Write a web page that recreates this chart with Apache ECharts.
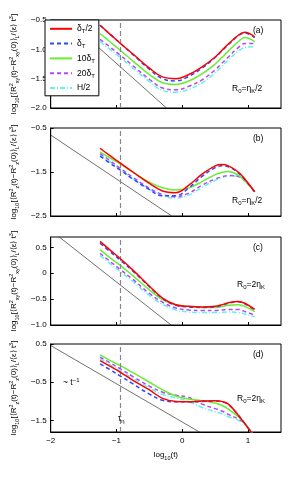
<!DOCTYPE html>
<html><head><meta charset="utf-8">
<script src="https://cdn.jsdelivr.net/npm/echarts@6/dist/echarts.min.js"></script>
<style>html,body{margin:0;padding:0;background:#fff}#c{width:295px;height:493px}</style>
</head><body><div id="c"></div>
<script>
// shared log10(t) sample points
var logT = [-1.25,-1.1,-0.94,-0.75,-0.5,-0.3,-0.1,0.1,0.3,0.5,0.6,0.7,0.85,0.95,1.1];
var seriesNames = ['δT/2','δT','10δT','20δT','H/2'];
// panel (a): R_xy, R0 = eta_K/2
var a_red   = [-0.59,-0.74,-0.90,-1.08,-1.32,-1.47,-1.50,-1.43,-1.30,-1.13,-1.02,-0.91,-0.76,-0.71,-0.79];
var a_blue  = [-0.59,-0.74,-0.90,-1.09,-1.34,-1.50,-1.54,-1.46,-1.32,-1.14,-1.03,-0.92,-0.77,-0.72,-0.80];
var a_green = [-0.73,-0.87,-1.02,-1.20,-1.43,-1.57,-1.60,-1.54,-1.42,-1.25,-1.14,-1.03,-0.87,-0.80,-0.87];
var a_mag   = [-0.83,-0.96,-1.10,-1.28,-1.51,-1.66,-1.69,-1.63,-1.52,-1.35,-1.24,-1.13,-0.97,-0.90,-0.90];
var a_cyan  = [-0.87,-1.00,-1.14,-1.32,-1.55,-1.70,-1.73,-1.68,-1.57,-1.40,-1.29,-1.18,-1.03,-0.97,-0.955];
// panel (b): R_z, R0 = eta_K/2
var b_red   = [-0.96,-1.13,-1.30,-1.50,-1.76,-1.93,-1.97,-1.80,-1.55,-1.36,-1.33,-1.36,-1.50,-1.66,-1.95];
var b_blue  = [-1.14,-1.30,-1.46,-1.66,-1.90,-2.04,-2.04,-1.86,-1.60,-1.40,-1.36,-1.38,-1.52,-1.67,-1.95];
var b_green = [-1.04,-1.18,-1.32,-1.51,-1.73,-1.86,-1.91,-1.86,-1.72,-1.56,-1.51,-1.49,-1.57,-1.70,-1.95];
var b_mag   = [-1.08,-1.24,-1.42,-1.62,-1.87,-2.01,-2.06,-1.98,-1.80,-1.66,-1.61,-1.58,-1.60,-1.70,-1.95];
var b_cyan  = [-1.11,-1.27,-1.44,-1.65,-1.89,-2.04,-2.09,-2.02,-1.85,-1.69,-1.63,-1.59,-1.59,-1.68,-1.95];
// panel (c): R_xy, R0 = 2 eta_K
var c_red   = [0.615,0.45,0.28,0.06,-0.25,-0.48,-0.61,-0.64,-0.65,-0.64,-0.61,-0.57,-0.545,-0.58,-0.70];
var c_blue  = [0.58,0.42,0.25,0.04,-0.26,-0.49,-0.62,-0.65,-0.66,-0.65,-0.62,-0.58,-0.55,-0.59,-0.71];
var c_green = [0.456,0.30,0.148,-0.05,-0.32,-0.51,-0.61,-0.645,-0.66,-0.66,-0.645,-0.62,-0.61,-0.64,-0.74];
var c_mag   = [0.385,0.23,0.07,-0.12,-0.39,-0.56,-0.67,-0.71,-0.72,-0.72,-0.71,-0.70,-0.70,-0.74,-0.81];
var c_cyan  = [0.34,0.19,0.03,-0.16,-0.43,-0.60,-0.71,-0.75,-0.76,-0.76,-0.755,-0.75,-0.76,-0.79,-0.84];
// panel (d): R_z, R0 = 2 eta_K
var d_red   = [0.066,-0.08,-0.24,-0.45,-0.70,-0.92,-1.00,-1.01,-0.99,-0.98,-1.00,-1.07,-1.36,-1.58,-1.93];
var d_blue  = [-0.02,-0.17,-0.34,-0.54,-0.81,-0.97,-1.01,-1.01,-1.00,-0.99,-1.01,-1.08,-1.36,-1.58,-1.93];
var d_green = [0.214,0.07,-0.065,-0.25,-0.50,-0.70,-0.86,-0.94,-0.98,-1.04,-1.10,-1.20,-1.40,-1.58,-1.93];
var d_mag   = [0.154,0.01,-0.15,-0.35,-0.60,-0.76,-0.84,-0.90,-1.07,-1.19,-1.25,-1.34,-1.46,-1.58,-1.93];
var d_cyan  = [0.11,-0.04,-0.20,-0.40,-0.65,-0.82,-0.91,-1.00,-1.16,-1.27,-1.32,-1.40,-1.49,-1.60,-1.93];
// ~t^-1 reference lines: endpoints (x, y)
var refX = [-2, 0.5];
var ref_a = [-0.24, -2.74];
var ref_b = [-0.66, -3.16];
var ref_c = [0.83, -1.67];
var ref_d = [0.46, -2.04];
var tauEta = -0.94;
// axis ranges and ticks
var yMin = [-2, -2.5, -1, -1.8];
var yMax = [-0.5, -0.5, 0.7, 0.5];
var yTicks = [[-2,-1.5,-1,-0.5],[-2.5,-1.5,-0.5],[-1,-0.5,0,0.5],[-1.5,-0.5,0.5]];
var xTicks = [-2,-1,0,1];
var panelLabels = ['(a)','(b)','(c)','(d)'];

var panels = [
  [a_red,a_blue,a_green,a_mag,a_cyan,ref_a],
  [b_red,b_blue,b_green,b_mag,b_cyan,ref_b],
  [c_red,c_blue,c_green,c_mag,c_cyan,ref_c],
  [d_red,d_blue,d_green,d_mag,d_cyan,ref_d]
];
var styles = [
  {color:'#ff0000', type:'solid'},
  {color:'#2a48ff', type:[4,3]},
  {color:'#66ee33', type:'solid'},
  {color:'#b847f5', type:[4,3]},
  {color:'#66f0f0', type:[5,2,1,2]}
];
var FONT = '"Liberation Sans", Arial, sans-serif';
var tops = [20,128,237,344];
var H = 88;

function fmt(v){
  var s = (Math.abs(v) < 1e-9) ? '0' : v.toFixed(1);
  return s.replace('-', '\u2212');
}
function fmtX(v){
  return String(Math.round(v)).replace('-', '\u2212');
}
var richSS = {
  base:{fontSize:8, fontFamily:FONT, color:'#000', lineHeight:12, verticalAlign:'middle'},
  sub:{fontSize:5.5, fontFamily:FONT, color:'#000', lineHeight:12, verticalAlign:'bottom', padding:[3,0,0,0]},
  sup:{fontSize:5.5, fontFamily:FONT, color:'#000', lineHeight:12, verticalAlign:'top', padding:[0,0,3,0]}
};
function yName(comp){
  return '{base|log}{sub|10}{base|[⟨R}{sup|2}{sub|'+comp+'}{base|(t)\u2212R}{sup|2}{sub|'+comp+'}{base|(0)⟩}{sub|L}{base|/⟨ε⟩ t}{sup|3}{base|]}';
}
var comps = ['xy','z','xy','z'];

var grid=[], xAxis=[], yAxis=[], series=[];
for (var p=0;p<4;p++){
  grid.push({left:45, right:14, top:tops[p], height:H, show:true, borderColor:'#000', borderWidth:1, backgroundColor:'transparent'});
  xAxis.push({type:'value', gridIndex:p, min:-2, max:1.5, interval:1,
    axisLine:{show:true, onZero:false, lineStyle:{color:'#000', width:1}},
    axisTick:{show:true, inside:true, length:3, customValues:xTicks, lineStyle:{color:'#000'}},
    axisLabel:{show:p===3, customValues:xTicks, formatter:fmtX, fontSize:8, fontFamily:FONT, color:'#000', margin:5},
    splitLine:{show:false},
    name: p===3 ? '{base|log}{sub|10}{base|(t)}' : '',
    nameLocation:'middle', nameGap:17,
    nameTextStyle:{rich:richSS}
  });
  yAxis.push({type:'value', gridIndex:p, min:yMin[p], max:yMax[p],
    axisLine:{show:true, onZero:false, lineStyle:{color:'#000', width:1}},
    axisTick:{show:true, inside:true, length:3, customValues:yTicks[p], lineStyle:{color:'#000'}},
    axisLabel:{customValues:yTicks[p], formatter:fmt, fontSize:8, fontFamily:FONT, color:'#000', margin:4},
    splitLine:{show:false},
    name: yName(comps[p]), nameLocation:'middle', nameRotate:90, nameGap:29,
    nameTextStyle:{rich:richSS}
  });
  var d = panels[p];
  for (var s=0;s<5;s++){
    series.push({type:'line', name:seriesNames[s], xAxisIndex:p, yAxisIndex:p,
      data: logT.map(function(x,i){return [x, d[s][i]];}),
      smooth:0.4, symbol:'none', showSymbol:false, clip:true,
      lineStyle:{color:styles[s].color, type:styles[s].type, width:1.5},
      itemStyle:{color:styles[s].color}, z:5-s*0.1});
  }
  series.push({type:'line', name:'ref'+p, xAxisIndex:p, yAxisIndex:p,
    data: refX.map(function(x,i){return [x, d[5][i]];}),
    symbol:'none', clip:true, silent:true,
    lineStyle:{color:'#333', width:0.7}, z:1,
    markLine:{silent:true, symbol:'none', label:{show:false},
      lineStyle:{color:'#888', type:[5,3], width:1.2},
      data:[{xAxis:tauEta}]}
  });
}

var legendRich = {
  n:{fontSize:8.5, fontFamily:FONT, color:'#000', lineHeight:12, verticalAlign:'middle'},
  s:{fontSize:6, fontFamily:FONT, color:'#000', lineHeight:12, verticalAlign:'bottom', padding:[3,0,0,0]}
};
var legendText = {
  'δT/2':'{n|δ}{s|T}{n|/2}', 'δT':'{n|δ}{s|T}', '10δT':'{n|10δ}{s|T}', '20δT':'{n|20δ}{s|T}', 'H/2':'{n|H/2}'
};

var annRich = {
  n:{fontSize:8.5, fontFamily:FONT, color:'#000', lineHeight:12, verticalAlign:'middle'},
  s:{fontSize:6, fontFamily:FONT, color:'#000', lineHeight:12, verticalAlign:'bottom', padding:[3,0,0,0]},
  u:{fontSize:6, fontFamily:FONT, color:'#000', lineHeight:12, verticalAlign:'top', padding:[0,0,3,0]}
};
var graphic = [];
for (var p=0;p<4;p++){
  graphic.push({type:'text', left:253, top:tops[p]+6, style:{text:panelLabels[p], font:'8.5px '+FONT, fill:'#000'}, z:10});
}
var rLabels = [
  {t:'{n|R}{s|0}{n|=η}{s|K}{n|/2}', x:232, y:84},
  {t:'{n|R}{s|0}{n|=η}{s|K}{n|/2}', x:232, y:196},
  {t:'{n|R}{s|0}{n|=2η}{s|K}', x:237, y:280},
  {t:'{n|R}{s|0}{n|=2η}{s|K}', x:237, y:394}
];
rLabels.forEach(function(r){
  graphic.push({type:'text', left:r.x, top:r.y, style:{text:r.t, rich:annRich}, z:10});
});
graphic.push({type:'text', left:63, top:377, style:{text:'{n|~ t}{u|\u22121}', rich:annRich}, z:10});
graphic.push({type:'text', left:118, top:414, style:{text:'{n|τ}{s|η}', rich:annRich}, z:10});

var chart = echarts.init(document.getElementById('c'), null, {renderer:'canvas'});
chart.setOption({
  animation:false,
  backgroundColor:'#fff',
  grid:grid, xAxis:xAxis, yAxis:yAxis, series:series, graphic:graphic,
  legend:{
    data:seriesNames, left:45, top:20, orient:'vertical',
    backgroundColor:'#fff', borderColor:'#000', borderWidth:1, borderRadius:0,
    padding:[4,4,3,4], itemGap:4, itemWidth:22, itemHeight:12,
    itemStyle:{opacity:0},
    formatter:function(n){return legendText[n];},
    textStyle:{rich:legendRich},
    z:20
  }
});
</script>
</body></html>
